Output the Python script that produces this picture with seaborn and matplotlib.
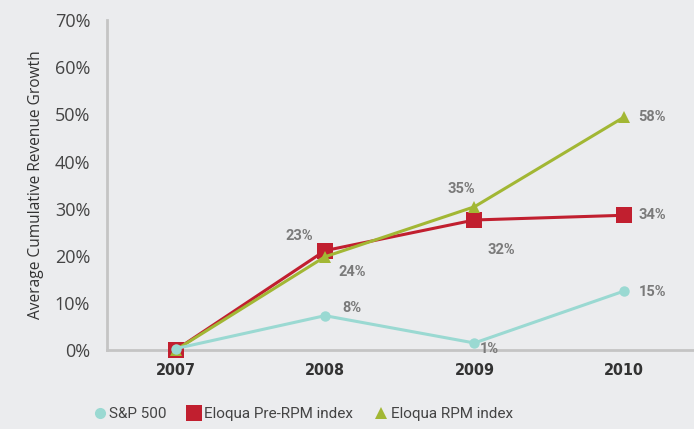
import matplotlib
matplotlib.use("Agg")
import matplotlib.pyplot as plt
from matplotlib.lines import Line2D
import seaborn as sns
import pandas as pd

years = ["2007", "2008", "2009", "2010"]
series_names = ["S&P 500", "Eloqua Pre-RPM index", "Eloqua RPM index"]
sp500 = [0.3, 7.3, 1.5, 12.5]
pre_rpm = [0.0, 21.1, 27.6, 28.6]
rpm = [0.0, 19.8, 30.4, 49.4]
sp500_labels = ["", "8%", "1%", "15%"]
pre_rpm_labels = ["", "23%", "32%", "34%"]
rpm_labels = ["", "24%", "35%", "58%"]
yticks = [0, 10, 20, 30, 40, 50, 60, 70]

colors = {"S&P 500": "#9ad9d2", "Eloqua Pre-RPM index": "#c11f2f", "Eloqua RPM index": "#a2b734"}
markers = {"S&P 500": "o", "Eloqua Pre-RPM index": "s", "Eloqua RPM index": "^"}
msizes = {"S&P 500": 7.5, "Eloqua Pre-RPM index": 11, "Eloqua RPM index": 8.5}

rows = []
for name, vals in zip(series_names, [sp500, pre_rpm, rpm]):
    for i, v in enumerate(vals):
        rows.append({"series": name, "x": i, "value": v})
df = pd.DataFrame(rows)

sns.set_theme(style="white")
plt.rcParams["font.family"] = ["Open Sans", "DejaVu Sans"]
bg = "#ebecee"
fig = plt.figure(figsize=(6.94, 4.29), dpi=100, facecolor=bg)
ax = fig.add_axes([0.154, 0.184, 0.846, 0.769])
ax.set_facecolor(bg)

for name in series_names:
    sub = df[df.series == name]
    sns.lineplot(data=sub, x="x", y="value", ax=ax, color=colors[name], lw=2.2,
                 marker=markers[name], markersize=msizes[name], markeredgewidth=0,
                 clip_on=False, zorder={"S&P 500": 5, "Eloqua Pre-RPM index": 3, "Eloqua RPM index": 4}[name])

# value labels
lab_col = "#7a7a7a"
lab_kw = dict(color=lab_col, fontsize=10.5, fontweight="bold", family=["Roboto", "DejaVu Sans"])
offsets = {
    "S&P 500": [None, (0.18, 1.6), (0.1, -1.2), (0.19, -0.2)],
    "Eloqua Pre-RPM index": [None, (-0.17, 3.1), (0.18, -6.3), (0.19, 0.0)],
    "Eloqua RPM index": [None, (0.18, -3.3), (-0.09, 3.8), (0.19, 0.0)],
}
for name, vals, labs in zip(series_names, [sp500, pre_rpm, rpm], [sp500_labels, pre_rpm_labels, rpm_labels]):
    for i, (v, l) in enumerate(zip(vals, labs)):
        if not l:
            continue
        dx, dy = offsets[name][i]
        ax.text(i + dx, v + dy, l, ha="center", va="center", **lab_kw)

ax.set_xlim(-0.46, 3.47)
ax.set_ylim(0, 70)
ax.set_xticks(range(len(years)))
ax.set_xticklabels(years, fontsize=11.5, fontweight="bold", fontstretch="condensed",
                   family=["DejaVu Sans"], color="#333333")
ax.set_yticks(yticks)
ax.set_yticklabels([f"{t}%" for t in yticks], fontsize=13, color="#444444")
ax.tick_params(axis="y", direction="in", length=10, width=2, color="#c4c4c4", pad=12)
ax.tick_params(axis="x", length=0, pad=9)
ax.set_xlabel("")
ax.set_ylabel("Average Cumulative Revenue Growth", fontsize=11.2, color="#333333", labelpad=8)
for s in ["top", "right"]:
    ax.spines[s].set_visible(False)
for s in ["left", "bottom"]:
    ax.spines[s].set_color("#c4c4c4")
    ax.spines[s].set_linewidth(2)

handles = [Line2D([], [], ls="none", marker=markers[n], color=colors[n],
                  markersize={"S&P 500": 8, "Eloqua Pre-RPM index": 12, "Eloqua RPM index": 9}[n],
                  markeredgewidth=0, label=n) for n in series_names]
leg = fig.legend(handles=handles, loc="center", bbox_to_anchor=(0.438, 0.035), ncol=3,
                 frameon=False, handlelength=0.6, handletextpad=0.35,
                 columnspacing=1.5, labelcolor="#444444",
                 prop={"family": ["Roboto", "DejaVu Sans"], "size": 11})

fig.savefig("out.png", dpi=100, facecolor=bg)
